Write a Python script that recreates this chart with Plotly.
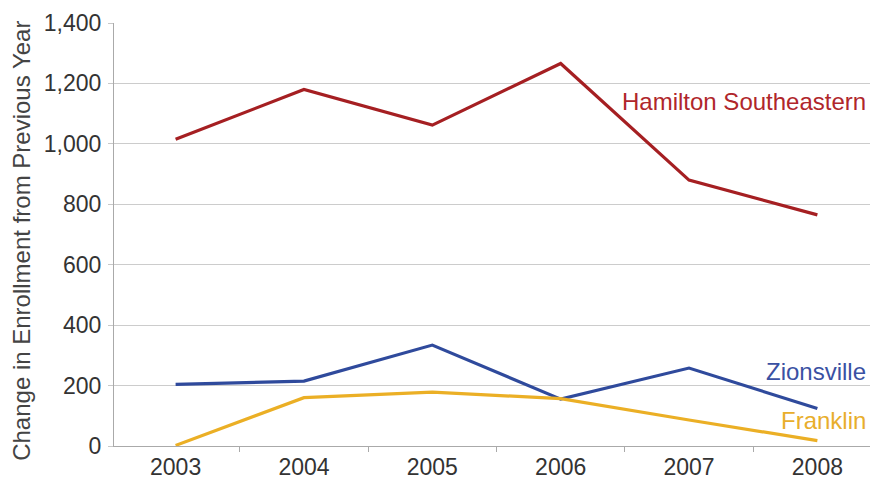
import plotly.graph_objects as go

years = ["2003", "2004", "2005", "2006", "2007", "2008"]
hamilton = [1015, 1180, 1062, 1266, 880, 765]
zionsville = [204, 215, 334, 155, 258, 124]
franklin = [2, 160, 178, 157, 86, 18]

series = [
    ("Hamilton Southeastern", hamilton, "#A51F22", "#B0262B", 1139),
    ("Zionsville", zionsville, "#2F4A9C", "#3A51A3", 246),
    ("Franklin", franklin, "#EBAF25", "#E8AE2C", 83),
]

FONT = "Liberation Sans, Arial, sans-serif"

fig = go.Figure()
for name, vals, color, lcolor, ly in series:
    fig.add_trace(go.Scatter(x=years, y=vals, mode="lines", name=name,
                             line=dict(color=color, width=3.2), cliponaxis=False))

annos = []
for name, vals, color, lcolor, ly in series:
    annos.append(dict(text=name, x=0.997, xref="paper", xanchor="right",
                      y=ly, yref="y", yanchor="middle", showarrow=False,
                      font=dict(family=FONT, size=24, color=lcolor)))
annos.append(dict(text="Change in Enrollment from Previous Year", textangle=-90,
                  x=-0.1217, xref="paper", xanchor="center", y=0.485, yref="paper",
                  yanchor="middle", showarrow=False,
                  font=dict(family=FONT, size=24, color="#444444")))

fig.update_layout(
    width=870, height=482,
    margin=dict(l=114, r=0, t=23, b=36),
    paper_bgcolor="white", plot_bgcolor="white",
    showlegend=False,
    annotations=annos,
    font=dict(family=FONT, size=23, color="#333333"),
)
fig.update_xaxes(type="category", range=[-0.48, 5.41], tickson="boundaries",
                 ticks="outside", ticklen=5, tickcolor="#aaaaaa",
                 showline=True, linecolor="#aaaaaa", linewidth=1,
                 showgrid=False, tickfont=dict(size=23, color="#333333"))
fig.update_yaxes(range=[0, 1400], tickvals=[0, 200, 400, 600, 800, 1000, 1200, 1400],
                 ticktext=["0", "200", "400", "600", "800", "1,000", "1,200", "1,400"],
                 ticks="outside", ticklen=5, tickcolor="#c8c8c8",
                 showline=True, linecolor="#aaaaaa", linewidth=1,
                 showgrid=True, gridcolor="#cccccc", gridwidth=1.2, zeroline=False,
                 tickfont=dict(size=23, color="#333333"), ticklabelstandoff=2)

fig.write_html("out.html")
